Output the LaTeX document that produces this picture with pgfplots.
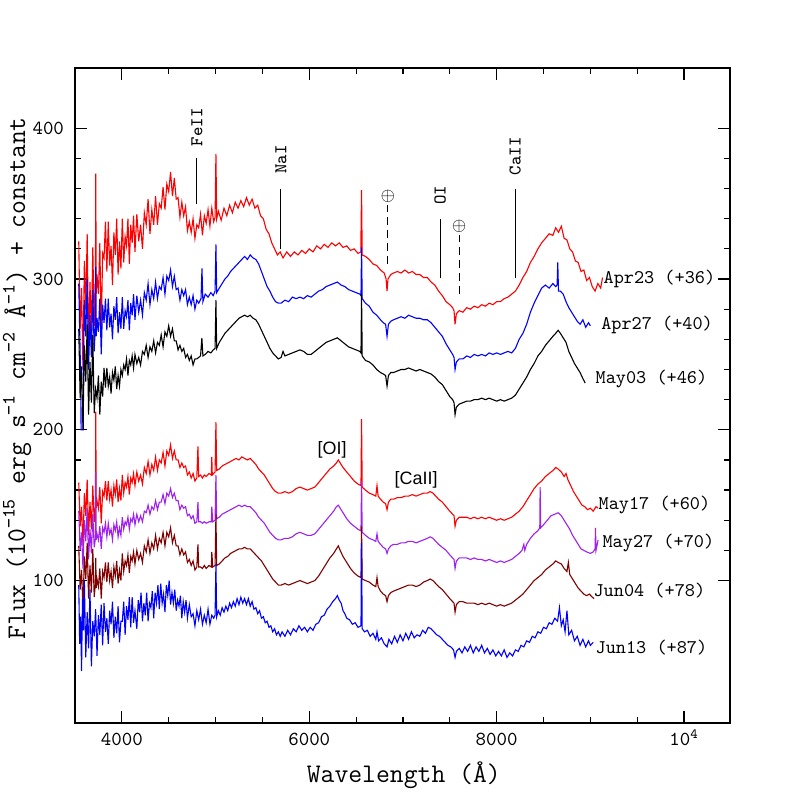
\documentclass[border=0pt]{standalone}
\usepackage{fontspec}
\usepackage{pgfplots}
\pgfplotsset{compat=1.18}
\newfontfamily\sansf{Liberation Sans}
\definecolor{cpurple}{RGB}{160,32,240}
\definecolor{cmaroon}{RGB}{128,0,0}
\newcommand{\labfont}{\fontsize{9.7}{11}\selectfont\ttfamily}
\newcommand{\annfont}{\fontsize{9}{10}\selectfont\ttfamily}
\begin{document}
\begin{tikzpicture}
\useasboundingbox (-37.5bp,-37bp) rectangle (361bp,361.5bp);
\begin{axis}[at={(0,0)}, anchor=south west, scale only axis,
  width=327.5bp, height=327.5bp,
  xmin=3500, xmax=10490, ymin=5.5, ymax=440,
  xtick={4000,6000,8000,10000},
  xticklabels={4000,6000,8000,10\smash{\textsuperscript{4}}},
  scaled x ticks=false,
  minor x tick num=3,
  ytick={100,200,300,400}, yticklabels={100,200,300,400},
  minor y tick num=4,
  tick pos=both, tick align=inside,
  major tick length=6bp, minor tick length=3bp,
  every tick/.style={black, line width=0.6bp},
  axis line style={line width=0.9bp},
  tick label style={font=\fontsize{10}{12}\selectfont\ttfamily},
  xticklabel style={yshift=-1.7bp},
  yticklabel style={xshift=-2bp},
  xlabel={Wavelength (Å)},
  ylabel={Flux (10\textsuperscript{\textminus15} erg s\textsuperscript{\textminus1} cm\textsuperscript{\textminus2} Å\textsuperscript{\textminus1}) + constant},
  xlabel style={at={(axis description cs:0.502,-0.0916)}, anchor=base, font=\fontsize{13.5}{15}\selectfont\ttfamily},
  ylabel style={at={(axis description cs:-0.0763,0.526)}, anchor=base, font=\fontsize{13.5}{15}\selectfont\ttfamily},
  clip=false,
  every axis plot/.append style={line width=0.55bp, mark=none},
]
% Apr23 (+36)
\addplot[red] coordinates {
(3540,325)(3555,267)(3570,294)(3585,240)(3600,312)(3615,280)(3630,330)(3645,253)(3660,298)(3675,262)(3690,321)(3705,269)(3718,300)(3722,370)(3726,290)(3735,303)(3750,290)(3765,324)(3780,265)(3795,317)(3810,314)(3825,338)(3840,305)(3855,338)(3870,309)(3885,322)(3900,296)(3915,331)(3930,316)(3945,340)(3960,303)(3975,325)(3990,307)(4005,340)(4020,311)(4035,328)(4050,322)(4065,340)(4080,310)(4095,336)(4110,324)(4125,342)(4140,318)(4160,343)(4180,325)(4200,336)(4220,320)(4240,344)(4260,336)(4280,353)(4300,330)(4320,346)(4340,336)(4360,355)(4380,336)(4400,350)(4420,347)(4440,361)(4460,346)(4480,363)(4500,358)(4520,371)(4540,355)(4560,367)(4580,353)(4600,354)(4620,341)(4640,351)(4660,342)(4680,348)(4700,332)(4720,338)(4740,331)(4760,340)(4780,327)(4800,336)(4820,334)(4840,343)(4860,329)(4880,342)(4900,337)(4920,346)(4940,335)(4960,347)(4980,338)(4995,341)(5004,383)(5012,340)(5030,345)(5060,339)(5090,347)(5120,342)(5150,349)(5180,344)(5210,351)(5240,347)(5270,352)(5300,348)(5330,354)(5360,349)(5390,353)(5420,347)(5450,349)(5480,342)(5510,340)(5540,333)(5570,330)(5600,324)(5630,320)(5660,316)(5690,318)(5720,314)(5760,318)(5800,315)(5840,318)(5880,316)(5920,319)(5960,317)(6000,320)(6040,318)(6080,322)(6120,320)(6160,323)(6200,321)(6240,324)(6280,322)(6320,324)(6360,321)(6400,322)(6440,319)(6480,320)(6520,317)(6550,318)(6558,359)(6565,316)(6600,315)(6640,313)(6680,310)(6720,309)(6760,306)(6800,304)(6820,300)(6830,292)(6840,300)(6870,303)(6900,304)(6940,305)(6980,304)(7020,306)(7060,304)(7100,305)(7140,303)(7180,303)(7220,301)(7260,301)(7300,298)(7340,296)(7380,292)(7420,289)(7460,285)(7500,283)(7530,281)(7545,279)(7556,270)(7570,277)(7600,279)(7640,278)(7680,281)(7720,280)(7760,282)(7800,281)(7840,283)(7880,282)(7920,284)(7960,283)(8000,285)(8040,285)(8080,287)(8120,288)(8160,290)(8200,292)(8240,296)(8280,301)(8320,305)(8360,311)(8400,315)(8440,320)(8480,324)(8520,327)(8560,330)(8600,329)(8630,334)(8660,331)(8690,335)(8720,327)(8750,326)(8780,320)(8810,318)(8840,312)(8870,311)(8900,305)(8930,306)(8960,299)(8990,301)(9020,295)(9050,292)(9080,297)(9110,294)(9130,301)
};
% Apr27 (+40)
\addplot[blue] coordinates {
(3540,297)(3555,251)(3562,230)(3565,200)(3588,200)(3590,240)(3600,286)(3615,262)(3630,300)(3645,240)(3660,276)(3675,248)(3690,293)(3705,252)(3718,270)(3722,308)(3726,262)(3735,274)(3750,265)(3765,287)(3780,250)(3795,283)(3810,271)(3825,287)(3840,266)(3855,287)(3870,268)(3885,277)(3900,260)(3915,282)(3930,273)(3945,288)(3960,264)(3975,278)(3990,267)(4005,288)(4020,267)(4035,279)(4050,275)(4065,286)(4080,266)(4095,284)(4110,276)(4125,290)(4140,273)(4160,289)(4180,278)(4200,286)(4220,276)(4240,291)(4260,286)(4280,297)(4300,283)(4320,293)(4340,287)(4360,298)(4380,287)(4400,295)(4420,293)(4440,301)(4460,290)(4480,302)(4500,299)(4520,306)(4540,295)(4560,302)(4580,293)(4600,294)(4620,286)(4640,293)(4660,289)(4680,293)(4700,283)(4720,288)(4740,283)(4760,289)(4780,280)(4800,286)(4820,284)(4845,287)(4855,307)(4865,285)(4890,290)(4920,288)(4950,291)(4975,289)(4995,292)(5004,323)(5012,291)(5040,294)(5070,297)(5100,300)(5130,302)(5160,305)(5190,307)(5220,309)(5250,311)(5280,313)(5310,315)(5340,313)(5370,316)(5400,314)(5430,313)(5460,310)(5490,305)(5520,300)(5550,295)(5580,292)(5610,288)(5640,285)(5670,284)(5700,284)(5740,286)(5780,285)(5820,288)(5860,287)(5900,288)(5940,287)(5980,289)(6020,288)(6060,290)(6100,292)(6140,293)(6180,295)(6220,296)(6260,297)(6300,298)(6340,296)(6380,295)(6420,293)(6460,292)(6500,291)(6540,290)(6552,289)(6558,321)(6565,287)(6600,284)(6640,282)(6680,278)(6720,276)(6760,273)(6790,271)(6815,270)(6830,262)(6845,270)(6870,272)(6900,273)(6940,274)(6980,275)(7020,274)(7060,276)(7100,275)(7140,274)(7180,274)(7220,273)(7260,273)(7300,271)(7340,268)(7380,265)(7420,262)(7460,257)(7500,253)(7530,250)(7545,248)(7556,240)(7570,245)(7600,247)(7640,247)(7680,249)(7720,248)(7760,250)(7800,249)(7840,250)(7880,249)(7920,251)(7960,250)(8000,251)(8040,250)(8080,251)(8120,252)(8160,251)(8200,254)(8240,260)(8280,264)(8320,270)(8360,278)(8400,284)(8440,289)(8480,294)(8520,296)(8560,294)(8600,297)(8630,295)(8645,296)(8652,311)(8660,292)(8680,292)(8710,290)(8740,285)(8770,281)(8800,278)(8830,275)(8860,272)(8890,270)(8920,273)(8950,268)(8980,271)(9000,269)
};
% May03 (+46)
\addplot[black] coordinates {
(3540,267)(3555,221)(3570,242)(3585,200)(3600,256)(3615,232)(3630,270)(3645,210)(3660,245)(3675,218)(3690,263)(3705,211)(3720,227)(3735,221)(3750,236)(3765,210)(3780,232)(3795,222)(3810,241)(3825,228)(3840,241)(3855,229)(3870,235)(3885,224)(3900,238)(3915,233)(3930,242)(3945,227)(3960,236)(3975,229)(3990,240)(4005,236)(4020,243)(4035,240)(4050,247)(4065,236)(4080,246)(4095,243)(4110,249)(4125,241)(4140,250)(4160,244)(4180,248)(4200,243)(4220,252)(4240,250)(4260,256)(4280,248)(4300,255)(4320,252)(4340,259)(4360,251)(4380,258)(4400,256)(4420,263)(4440,255)(4460,265)(4480,262)(4500,269)(4520,262)(4540,267)(4560,259)(4580,259)(4600,253)(4620,256)(4640,252)(4660,254)(4680,248)(4700,250)(4720,246)(4740,249)(4760,243)(4780,247)(4800,247)(4840,249)(4854,261)(4865,249)(4890,250)(4920,252)(4950,251)(4975,253)(4995,254)(5004,286)(5012,254)(5040,258)(5070,261)(5100,264)(5130,266)(5160,268)(5190,270)(5220,272)(5250,274)(5280,275)(5310,276)(5340,275)(5370,276)(5400,274)(5430,273)(5460,270)(5490,266)(5520,262)(5550,258)(5580,254)(5610,251)(5640,249)(5670,247)(5700,248)(5720,252)(5740,249)(5780,250)(5820,251)(5860,252)(5900,253)(5940,252)(5980,250)(6020,250)(6060,252)(6100,254)(6140,256)(6180,258)(6220,259)(6260,260)(6300,261)(6340,259)(6380,257)(6420,255)(6460,254)(6500,253)(6540,252)(6552,251)(6558,290)(6565,249)(6600,246)(6640,245)(6680,243)(6720,240)(6760,238)(6790,237)(6815,236)(6830,229)(6845,236)(6870,238)(6900,238)(6940,239)(6980,240)(7020,240)(7060,241)(7100,240)(7140,239)(7180,240)(7220,239)(7260,238)(7300,237)(7340,235)(7380,232)(7420,230)(7460,226)(7500,222)(7530,220)(7545,218)(7556,210)(7570,215)(7600,217)(7640,218)(7680,219)(7720,219)(7760,220)(7800,220)(7840,221)(7880,220)(7920,221)(7960,220)(8000,219)(8040,220)(8080,219)(8120,220)(8160,221)(8200,223)(8240,227)(8280,231)(8320,235)(8360,240)(8400,244)(8440,249)(8480,252)(8520,256)(8560,259)(8600,262)(8630,264)(8656,266)(8680,264)(8710,261)(8740,258)(8770,252)(8800,248)(8830,244)(8860,241)(8890,238)(8920,234)(8945,231)
};
% May17 (+60)
\addplot[red] coordinates {
(3540,165)(3555,136)(3570,149)(3585,123)(3600,158)(3615,143)(3630,167)(3645,130)(3660,152)(3675,134)(3690,163)(3705,139)(3718,150)(3722,212)(3726,148)(3735,153)(3750,148)(3765,162)(3780,138)(3795,159)(3810,156)(3825,166)(3840,153)(3855,166)(3870,154)(3885,160)(3900,149)(3915,163)(3930,157)(3945,167)(3960,152)(3975,161)(3990,153)(4005,170)(4020,158)(4035,165)(4050,162)(4065,169)(4080,157)(4095,168)(4110,165)(4125,171)(4140,163)(4160,172)(4180,166)(4200,170)(4220,164)(4240,175)(4260,171)(4280,179)(4300,170)(4320,177)(4340,173)(4360,182)(4380,173)(4400,180)(4420,178)(4440,185)(4460,176)(4480,186)(4500,183)(4520,190)(4540,181)(4560,186)(4580,180)(4600,180)(4620,175)(4640,178)(4660,175)(4680,176)(4700,170)(4720,172)(4740,168)(4760,171)(4780,166)(4800,168)(4812,189)(4820,169)(4840,170)(4860,168)(4880,170)(4900,169)(4930,171)(4955,170)(4960,182)(4965,170)(4980,171)(4995,172)(5004,205)(5012,173)(5040,174)(5070,176)(5100,177)(5130,178)(5160,179)(5190,180)(5220,181)(5250,180)(5280,182)(5310,181)(5340,180)(5370,181)(5400,179)(5430,177)(5460,174)(5490,172)(5520,170)(5550,167)(5580,164)(5610,161)(5640,159)(5670,158)(5700,158)(5740,159)(5780,158)(5820,159)(5860,161)(5900,162)(5940,161)(5980,160)(6020,161)(6060,162)(6100,165)(6140,168)(6180,171)(6220,174)(6260,176)(6290,178)(6310,180)(6330,178)(6360,175)(6400,172)(6440,169)(6480,166)(6520,164)(6552,163)(6558,207)(6565,162)(6600,160)(6640,158)(6680,157)(6710,156)(6723,163)(6735,156)(6760,154)(6790,152)(6815,151)(6830,147)(6845,152)(6870,154)(6900,154)(6940,155)(6980,155)(7020,156)(7060,156)(7100,157)(7140,156)(7180,157)(7220,158)(7260,158)(7290,159)(7320,158)(7350,156)(7380,154)(7420,152)(7460,149)(7500,146)(7530,144)(7545,143)(7556,136)(7570,140)(7600,142)(7640,142)(7680,142)(7720,141)(7760,142)(7800,141)(7840,142)(7880,141)(7920,142)(7960,141)(8000,140)(8040,141)(8080,140)(8120,141)(8160,142)(8200,144)(8240,146)(8280,149)(8320,153)(8360,157)(8400,161)(8440,164)(8480,166)(8520,169)(8560,171)(8600,173)(8630,175)(8656,174)(8690,172)(8720,169)(8740,171)(8760,167)(8790,163)(8820,159)(8850,156)(8880,153)(8910,150)(8940,149)(8970,147)(9000,148)(9030,146)(9060,149)(9083,148)
};
% May27 (+70)
\addplot[cpurple] coordinates {
(3540,146)(3555,120)(3570,132)(3585,108)(3600,140)(3615,126)(3630,148)(3645,114)(3660,134)(3675,118)(3690,144)(3705,122)(3718,128)(3722,172)(3726,127)(3735,131)(3750,127)(3765,136)(3780,121)(3795,135)(3810,132)(3825,138)(3840,129)(3855,138)(3870,131)(3885,134)(3900,127)(3915,137)(3930,133)(3945,139)(3960,129)(3975,135)(3990,130)(4005,142)(4020,134)(4035,139)(4050,137)(4065,142)(4080,134)(4095,141)(4110,139)(4125,144)(4140,137)(4160,144)(4180,139)(4200,143)(4220,139)(4240,146)(4260,145)(4280,150)(4300,144)(4320,149)(4340,147)(4360,153)(4380,147)(4400,152)(4420,152)(4440,157)(4460,151)(4480,158)(4500,156)(4520,161)(4540,155)(4560,158)(4580,153)(4600,153)(4620,147)(4640,150)(4660,148)(4680,149)(4700,143)(4720,144)(4740,141)(4760,143)(4780,138)(4800,139)(4812,152)(4820,139)(4840,139)(4860,138)(4880,139)(4900,138)(4930,139)(4955,139)(4960,149)(4970,139)(4995,140)(5004,170)(5012,141)(5040,142)(5070,144)(5100,145)(5130,146)(5160,147)(5190,148)(5220,149)(5250,150)(5280,149)(5310,150)(5340,149)(5370,149)(5400,147)(5430,145)(5460,142)(5490,140)(5520,138)(5550,135)(5580,132)(5610,130)(5640,128)(5670,127)(5700,127)(5740,128)(5780,128)(5820,129)(5860,131)(5900,132)(5940,131)(5980,130)(6020,130)(6060,131)(6100,134)(6140,137)(6180,140)(6220,143)(6260,146)(6290,149)(6310,150)(6330,148)(6360,145)(6400,141)(6440,138)(6480,136)(6520,134)(6552,133)(6558,166)(6565,132)(6600,130)(6640,128)(6680,127)(6710,126)(6723,131)(6735,126)(6760,124)(6790,122)(6815,121)(6830,118)(6845,121)(6870,123)(6900,124)(6940,124)(6980,125)(7020,125)(7060,126)(7100,126)(7140,125)(7180,126)(7220,127)(7260,128)(7290,129)(7320,128)(7350,126)(7380,124)(7420,122)(7460,120)(7500,117)(7530,115)(7545,114)(7556,108)(7570,113)(7600,115)(7640,115)(7680,115)(7720,114)(7760,115)(7800,114)(7840,114)(7880,113)(7920,114)(7960,113)(8000,112)(8040,113)(8080,112)(8120,113)(8160,114)(8200,116)(8240,118)(8270,120)(8290,124)(8300,120)(8320,124)(8360,128)(8400,131)(8440,133)(8460,135)(8464,162)(8470,135)(8500,137)(8540,140)(8580,143)(8620,144)(8656,145)(8690,143)(8720,140)(8750,137)(8780,134)(8810,130)(8840,127)(8870,124)(8900,121)(8930,120)(8960,119)(9000,118)(9030,119)(9050,121)(9055,135)(9060,120)(9083,127)
};
% Jun04 (+78)
\addplot[cmaroon] coordinates {
(3540,123)(3555,94)(3570,107)(3585,81)(3600,116)(3615,101)(3630,125)(3645,88)(3660,110)(3675,92)(3690,121)(3705,89)(3718,98)(3722,115)(3726,95)(3735,101)(3750,96)(3765,108)(3780,88)(3795,106)(3810,102)(3825,112)(3840,99)(3855,112)(3870,100)(3885,106)(3900,95)(3915,109)(3930,103)(3945,113)(3960,98)(3975,107)(3990,100)(4005,118)(4020,106)(4035,113)(4050,110)(4065,117)(4080,105)(4095,116)(4110,113)(4125,119)(4140,111)(4160,120)(4180,114)(4200,118)(4220,112)(4240,123)(4260,119)(4280,127)(4300,118)(4320,125)(4340,121)(4360,130)(4380,121)(4400,128)(4420,125)(4440,132)(4460,123)(4480,132)(4500,129)(4520,135)(4540,125)(4560,130)(4580,123)(4600,123)(4620,117)(4640,121)(4660,117)(4680,119)(4700,112)(4720,114)(4740,110)(4760,113)(4780,107)(4800,109)(4812,124)(4820,109)(4840,109)(4860,108)(4880,110)(4900,108)(4930,110)(4955,109)(4960,119)(4970,109)(4995,110)(5004,144)(5012,110)(5040,111)(5070,113)(5100,115)(5130,116)(5160,118)(5190,119)(5220,120)(5250,121)(5280,121)(5310,122)(5340,121)(5370,121)(5400,119)(5430,117)(5460,115)(5490,113)(5520,110)(5550,107)(5580,104)(5610,101)(5640,99)(5670,97)(5700,97)(5740,98)(5780,97)(5820,98)(5860,99)(5900,100)(5940,99)(5980,98)(6020,99)(6060,100)(6100,103)(6140,107)(6180,111)(6220,115)(6260,118)(6290,121)(6310,123)(6330,120)(6360,116)(6400,112)(6440,108)(6480,105)(6520,103)(6552,102)(6558,136)(6565,101)(6600,100)(6640,99)(6680,97)(6710,96)(6723,102)(6735,96)(6760,93)(6790,91)(6815,90)(6830,86)(6845,90)(6870,92)(6900,93)(6940,94)(6980,95)(7020,96)(7060,97)(7100,97)(7140,96)(7180,97)(7220,99)(7260,100)(7290,101)(7320,100)(7350,98)(7380,96)(7420,94)(7460,91)(7500,88)(7530,86)(7545,85)(7556,79)(7570,84)(7600,86)(7640,86)(7680,85)(7720,85)(7760,85)(7800,84)(7840,85)(7880,84)(7920,85)(7960,84)(8000,83)(8040,84)(8080,83)(8120,84)(8160,85)(8200,87)(8240,89)(8280,91)(8320,94)(8360,97)(8400,100)(8440,102)(8480,104)(8520,107)(8560,109)(8600,111)(8630,113)(8656,112)(8690,111)(8720,108)(8750,106)(8765,112)(8780,104)(8810,101)(8840,98)(8870,95)(8900,93)(8930,91)(8960,90)(8990,91)(9020,89)(9040,88)
};
% Jun13 (+87)
\addplot[blue] coordinates {
(3540,97)(3550,58)(3560,76)(3570,40)(3580,88)(3590,67)(3600,100)(3615,49)(3630,79)(3645,55)(3660,94)(3675,43)(3690,73)(3705,63)(3720,81)(3735,50)(3750,77)(3765,64)(3780,84)(3795,57)(3810,85)(3825,66)(3840,75)(3855,58)(3870,80)(3885,71)(3900,86)(3915,62)(3930,76)(3945,65)(3960,83)(3975,59)(3990,73)(4005,73)(4020,86)(4035,64)(4050,83)(4065,74)(4080,89)(4095,69)(4110,89)(4125,72)(4140,80)(4160,68)(4175,87)(4190,79)(4205,92)(4220,73)(4235,85)(4250,77)(4265,92)(4280,73)(4295,85)(4310,82)(4325,93)(4340,75)(4355,92)(4370,85)(4385,97)(4400,81)(4415,98)(4430,85)(4445,91)(4460,79)(4475,97)(4490,90)(4505,100)(4520,84)(4535,92)(4550,85)(4565,94)(4580,80)(4595,87)(4610,83)(4625,90)(4640,75)(4655,86)(4670,79)(4685,87)(4700,75)(4720,84)(4740,76)(4760,78)(4780,70)(4800,80)(4820,74)(4840,81)(4860,71)(4880,77)(4900,72)(4920,81)(4940,71)(4960,77)(4980,75)(4995,77)(5004,111)(5012,76)(5030,80)(5050,77)(5070,82)(5090,79)(5110,83)(5130,80)(5150,85)(5170,82)(5190,86)(5210,83)(5230,88)(5250,84)(5270,89)(5290,85)(5310,88)(5330,84)(5350,88)(5370,83)(5390,86)(5410,81)(5430,82)(5450,78)(5470,80)(5490,75)(5510,76)(5530,72)(5550,73)(5570,69)(5590,70)(5610,66)(5630,68)(5650,64)(5670,66)(5690,63)(5710,66)(5740,63)(5770,67)(5800,64)(5830,68)(5860,66)(5890,70)(5920,67)(5950,69)(5980,66)(6010,69)(6040,67)(6070,71)(6100,72)(6130,76)(6160,77)(6190,81)(6220,83)(6250,86)(6280,88)(6300,90)(6320,87)(6340,85)(6360,80)(6380,78)(6400,75)(6430,74)(6460,71)(6490,72)(6520,69)(6552,70)(6558,125)(6565,68)(6590,66)(6620,67)(6650,63)(6680,65)(6710,61)(6723,66)(6740,60)(6770,62)(6800,58)(6830,56)(6850,61)(6880,58)(6910,63)(6940,59)(6970,64)(7000,60)(7030,65)(7060,61)(7090,66)(7120,62)(7150,64)(7180,63)(7210,67)(7240,65)(7270,69)(7300,68)(7330,66)(7360,64)(7390,63)(7420,61)(7450,59)(7480,57)(7510,56)(7540,54)(7556,49)(7570,53)(7600,55)(7630,52)(7660,56)(7690,53)(7720,57)(7750,52)(7780,56)(7810,53)(7840,57)(7870,52)(7900,55)(7930,51)(7960,54)(7990,50)(8020,53)(8050,50)(8080,54)(8110,49)(8140,52)(8170,50)(8200,54)(8230,53)(8260,57)(8290,56)(8320,60)(8350,59)(8380,63)(8410,62)(8440,66)(8470,65)(8500,69)(8530,68)(8560,72)(8590,71)(8620,75)(8650,73)(8670,82)(8690,70)(8710,74)(8730,66)(8750,80)(8770,64)(8800,67)(8830,60)(8860,63)(8890,57)(8920,61)(8950,56)(8980,60)(9000,57)(9030,59)
};
% line identifications
\draw[line width=0.5bp] (axis cs:4801,350) -- (axis cs:4801,380);
\node[rotate=90, font=\annfont] at (axis cs:4801,400.7) {FeII};
\draw[line width=0.5bp] (axis cs:5698,320) -- (axis cs:5698,360);
\node[rotate=90, font=\annfont] at (axis cs:5698,379.4) {NaI};
\draw[line width=0.5bp] (axis cs:7396,300.5) -- (axis cs:7396,340);
\node[rotate=90, font=\annfont] at (axis cs:7396,355.6) {OI};
\draw[line width=0.5bp] (axis cs:8197,301) -- (axis cs:8197,360);
\node[rotate=90, font=\annfont] at (axis cs:8197,381.4) {CaII};
\draw[line width=0.5bp, dash pattern=on 4bp off 2.5bp] (axis cs:6838,310) -- (axis cs:6838,349);
\node[rotate=90, font=\fontsize{9}{10}\selectfont] at (axis cs:6838,355) {$\oplus$};
\draw[line width=0.5bp, dash pattern=on 4bp off 2.5bp] (axis cs:7599,290) -- (axis cs:7599,329);
\node[rotate=90, font=\fontsize{9}{10}\selectfont] at (axis cs:7599,335) {$\oplus$};
\node[font=\fontsize{9}{10}\selectfont\sansf] at (axis cs:6243,186.5) {[OI]};
\node[font=\fontsize{9}{10}\selectfont\sansf] at (axis cs:7140,167) {[CaII]};
% epoch labels
\node[anchor=west, font=\labfont, inner sep=0pt] at (axis cs:9137,300) {Apr23 (+36)};
\node[anchor=west, font=\labfont, inner sep=0pt] at (axis cs:9112,269.4) {Apr27 (+40)};
\node[anchor=west, font=\labfont, inner sep=0pt] at (axis cs:9052,233.6) {May03 (+46)};
\node[anchor=west, font=\labfont, inner sep=0pt] at (axis cs:9084,150) {May17 (+60)};
\node[anchor=west, font=\labfont, inner sep=0pt] at (axis cs:9126,124.8) {May27 (+70)};
\node[anchor=west, font=\labfont, inner sep=0pt] at (axis cs:9030,93.6) {Jun04 (+78)};
\node[anchor=west, font=\labfont, inner sep=0pt] at (axis cs:9052,55.8) {Jun13 (+87)};
\end{axis}
\end{tikzpicture}
\end{document}
